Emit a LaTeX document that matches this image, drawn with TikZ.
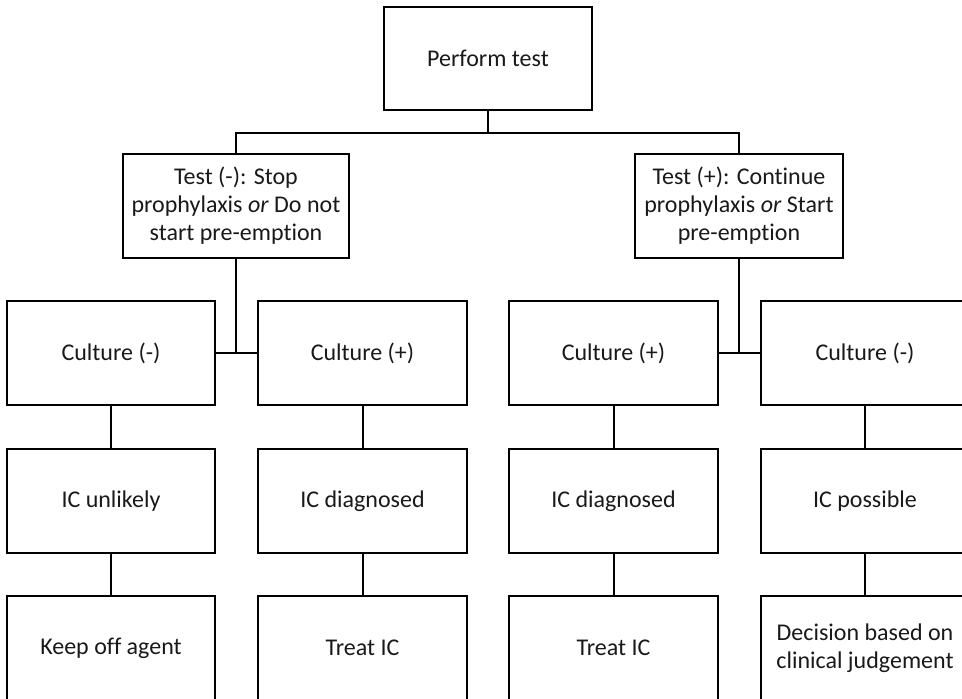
\documentclass[tikz,border=0pt]{standalone}
\usepackage{fontspec}
\setmainfont{Carlito}[Ligatures=CommonOff]
\begin{document}
\begin{tikzpicture}[x=1pt,y=-1pt,
  box/.style={draw, line width=2pt, rectangle, inner sep=0pt, align=center,
    font=\fontsize{24}{28}\selectfont, text=black!90},
  conn/.style={line width=2pt}]
\useasboundingbox (0,0) rectangle (962,699);
% top
\node[box, minimum width=208pt, minimum height=103pt] (perf) at (488,58.5) {Perform test};
\node[box, minimum width=226pt, minimum height=104pt] (tm) at (236,206) {Test (-): Stop\\prophylaxis \textit{or} Do not\\start pre-emption};
\node[box, minimum width=208pt, minimum height=104pt] (tp) at (739,206) {Test (+): Continue\\prophylaxis \textit{or} Start\\pre-emption};
% culture row
\node[box, minimum width=208pt, minimum height=104pt] (c1) at (111,353) {Culture (-)};
\node[box, minimum width=209pt, minimum height=104pt] (c2) at (362.5,353) {Culture (+)};
\node[box, minimum width=209pt, minimum height=104pt] (c3) at (613.5,353) {Culture (+)};
\node[box, minimum width=209pt, minimum height=104pt] (c4) at (865,353) {Culture (-)};
% IC row
\node[box, minimum width=208pt, minimum height=104pt] (i1) at (111,501) {IC unlikely};
\node[box, minimum width=209pt, minimum height=104pt] (i2) at (362.5,501) {IC diagnosed};
\node[box, minimum width=209pt, minimum height=104pt] (i3) at (613.5,501) {IC diagnosed};
\node[box, minimum width=209pt, minimum height=104pt] (i4) at (865,501) {IC possible};
% bottom row
\node[box, minimum width=208pt, minimum height=104pt] (b1) at (111,648) {Keep off agent};
\node[box, minimum width=209pt, minimum height=104pt] (b2) at (362.5,648) {Treat IC};
\node[box, minimum width=209pt, minimum height=104pt] (b3) at (613.5,648) {Treat IC};
\node[box, minimum width=209pt, minimum height=104pt] (b4) at (865,648) {Decision based on\\clinical judgement};
% connectors
\coordinate (j1) at (488,133);
\coordinate (j2) at (236,353);
\coordinate (j3) at (739,353);
\draw[conn] (perf.south) -- (j1);
\draw[conn] (tm.north) |- (j1) -| (tp.north);
\draw[conn] (tm.south) -- (j2);
\draw[conn] (tp.south) -- (j3);
\draw[conn] (c1.east) -- (c2.west);
\draw[conn] (c3.east) -- (c4.west);
\foreach \k in {1,2,3,4}{
  \draw[conn] (c\k.south) -- (i\k.north);
  \draw[conn] (i\k.south) -- (b\k.north);
}
\end{tikzpicture}
\end{document}
